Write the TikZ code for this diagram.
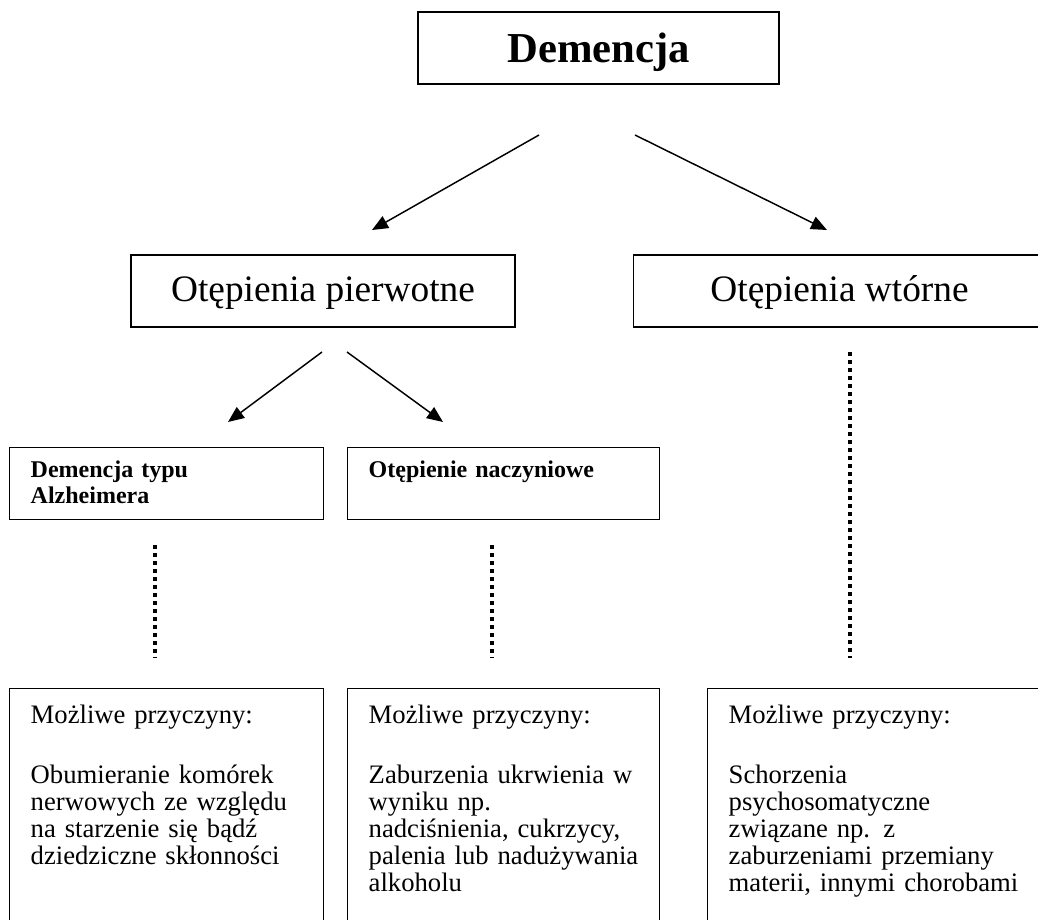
\documentclass[tikz,border=0pt]{standalone}
\usepackage{fontspec}
\setmainfont{Liberation Serif}
\usepackage{tikz}
\usetikzlibrary{arrows.meta}
\tikzstyle{arrow} = [line width=1.1pt,-{Triangle[length=12pt,width=10pt]}]
\tikzstyle{dots} = [line width=2.8pt,dash pattern=on 3pt off 3pt]
\tikzstyle{box} = [draw,line width=1.1pt,inner ysep=0pt]
\tikzstyle{subbox} = [box,anchor=north west,align=left,inner xsep=15.75pt,text height=22.5pt,text depth=31.5pt,font=\fontsize{18}{19.5}\selectfont\bfseries]
\tikzstyle{causebox} = [box,anchor=north west,align=left,inner xsep=15.75pt,text height=26.25pt,text depth=162.75pt,font=\fontsize{20}{20.25}\selectfont]

\begin{document}
\begin{tikzpicture}[x=0.75pt,y=-0.75pt]
  \clip (0,0) rectangle (1038,920);

  % Top box
  \node[box, minimum width=270.75pt, minimum height=54pt, text height=38.25pt, text depth=15.75pt,
        font=\fontsize{32}{38}\selectfont\bfseries] (dem) at (598.5,48) {Demencja};

  % Second level
  \node[box, minimum width=288pt, minimum height=54pt, text height=34.5pt, text depth=19.5pt,
        font=\fontsize{28}{34}\selectfont] (pierw) at (323,291) {Otępienia pierwotne};
  \node[box, minimum width=309pt, minimum height=54pt, text height=34.5pt, text depth=19.5pt,
        font=\fontsize{28}{34}\selectfont] (wtor) at (839.5,291) {Otępienia wtórne};

  % Third level
  \node[subbox, text width=204pt] (alz) at (9,447) {Demencja typu\\Alzheimera};
  \node[subbox, text width=202.5pt] (nacz) at (347,447) {Otępienie naczyniowe};

  % Causes
  \node[causebox, text width=204pt] (alzc) at (9,688)
    {Możliwe przyczyny:\\[24.75pt]Obumieranie komórek\\nerwowych ze względu\\na starzenie się bądź\\dziedziczne skłonności};
  \node[causebox, text width=202.5pt] (naczc) at (347,688)
    {Możliwe przyczyny:\\[24.75pt]Zaburzenia ukrwienia w\\wyniku np.\\nadciśnienia, cukrzycy,\\palenia lub nadużywania\\alkoholu};
  \node[causebox, text width=233.25pt] (wtorc) at (707,688)
    {Możliwe przyczyny:\\[24.75pt]Schorzenia\\psychosomatyczne\\związane np. z\\zaburzeniami przemiany\\materii, innymi chorobami};

  % Arrows
  \coordinate (a1s) at (539,135);
  \coordinate (a1e) at (372,230);
  \coordinate (a2s) at (635,135);
  \coordinate (a2e) at (827,230);
  \coordinate (a3s) at (322,352);
  \coordinate (a3e) at (228,422);
  \coordinate (a4s) at (347,352);
  \coordinate (a4e) at (443,422);
  \draw[arrow] (a1s) -- (a1e);
  \draw[arrow] (a2s) -- (a2e);
  \draw[arrow] (a3s) -- (a3e);
  \draw[arrow] (a4s) -- (a4e);

  % Dotted links
  \coordinate (d1s) at (155,545);
  \coordinate (d1e) at (155,658);
  \coordinate (d2s) at (492,545);
  \coordinate (d2e) at (492,658);
  \coordinate (d3s) at (850,352);
  \coordinate (d3e) at (850,658);
  \draw[dots] (d1s) -- (d1e);
  \draw[dots] (d2s) -- (d2e);
  \draw[dots] (d3s) -- (d3e);
\end{tikzpicture}
\end{document}
